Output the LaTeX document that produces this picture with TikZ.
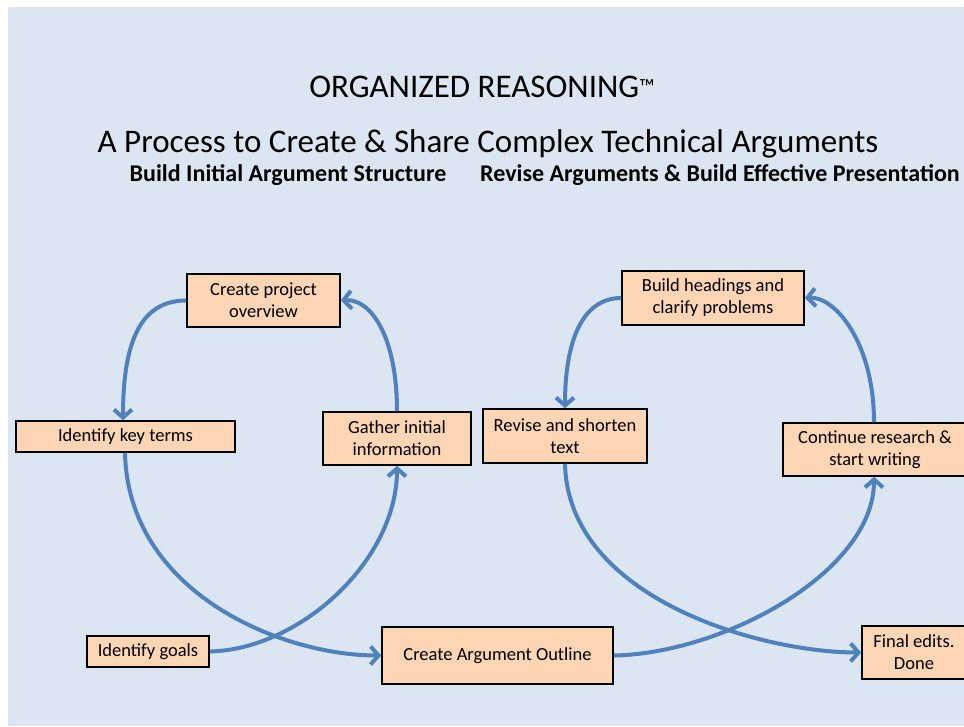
\documentclass[tikz,border=0pt]{standalone}
\usepackage{fontspec}
\setmainfont{Carlito}
\usetikzlibrary{arrows.meta}
\definecolor{slidebg}{HTML}{DCE6F2}
\definecolor{boxfill}{HTML}{FCD5B5}
\definecolor{flowblue}{HTML}{4F81BD}
\tikzset{
  stepbox/.style={draw=black, line width=1.5pt, fill=boxfill, inner sep=0pt,
    align=center, font=\fontsize{18.5}{22}\selectfont, text=black},
  flow/.style={draw=flowblue, line width=4pt,
    -{Straight Barb[length=8pt,width=18pt]}},
  headtext/.style={font=\fontsize{33}{38}\selectfont, text=black, anchor=base},
  phase/.style={font=\bfseries\fontsize{24}{28}\selectfont, text=black, anchor=base},
}
\begin{document}
\begin{tikzpicture}[x=1pt,y=-1pt]
  \useasboundingbox (0,0) rectangle (964,726);
  \fill[white] (0,0) rectangle (964,726);
  \fill[slidebg] (8,7) rectangle (964,726);

  % titles
  \node[headtext] (title) at (482,97) {ORGANIZED REASONING{\fontsize{22}{26}\selectfont\raisebox{3pt}{™}}};
  \node[headtext] (subtitle) at (488,152) {A Process to Create \& Share Complex Technical Arguments};
  \node[phase] (phaseA) at (288,181) {Build Initial Argument Structure};
  \node[phase] (phaseB) at (720,181) {Revise Arguments \& Build Effective Presentation};

  % process steps
  \node[stepbox, minimum width=153pt, minimum height=53pt] (proj) at (263.5,300.5) {Create project\\overview};
  \node[stepbox, minimum width=219pt, minimum height=31pt] (keyterms) at (125.5,436.5) {Identify key terms};
  \node[stepbox, minimum width=148pt, minimum height=53pt] (gather) at (397,438.5) {Gather initial\\information};
  \node[stepbox, minimum width=122pt, minimum height=31pt] (goals) at (148,651.5) {Identify goals};
  \node[stepbox, minimum width=231pt, minimum height=57pt] (outline) at (497.5,655.5) {Create Argument Outline};
  \node[stepbox, minimum width=182pt, minimum height=54pt] (headings) at (713,298) {Build headings and\\clarify problems};
  \node[stepbox, minimum width=164pt, minimum height=54pt] (revise) at (565,436) {Revise and shorten\\text};
  \node[stepbox, minimum width=184pt, minimum height=53pt] (contin) at (875,449.5) {Continue research \&\\start writing};
  \node[stepbox, minimum width=104pt, minimum height=53pt] (final) at (914,652.5) {Final edits.\\Done};

  % first cycle
  \draw[flow] (proj.west) .. controls +(-45,0) and +(0,-80) .. ([xshift=-2.5pt]keyterms.north);
  \draw[flow] (gather.north) .. controls +(0,-75) and +(30,-2) .. (proj.east);
  \draw[flow] ([xshift=-0.5pt]keyterms.south) .. controls +(3,140) and +(-100,0) .. (outline.west);
  \draw[flow] (goals.east) .. controls +(90,-2) and +(0,95) .. (gather.south);

  % second cycle
  \draw[flow] (headings.west) .. controls +(-40,0) and +(0,-65) .. (revise.north);
  \draw[flow] ([xshift=-1pt]contin.north) .. controls +(0,-80) and +(30,-2) .. (headings.east);
  \draw[flow] (revise.south) .. controls +(3,135) and +(-100,0) .. (final.west);
  \draw[flow] (outline.east) .. controls +(110,-2) and +(0,95) .. ([xshift=-1pt]contin.south);
\end{tikzpicture}
\end{document}
